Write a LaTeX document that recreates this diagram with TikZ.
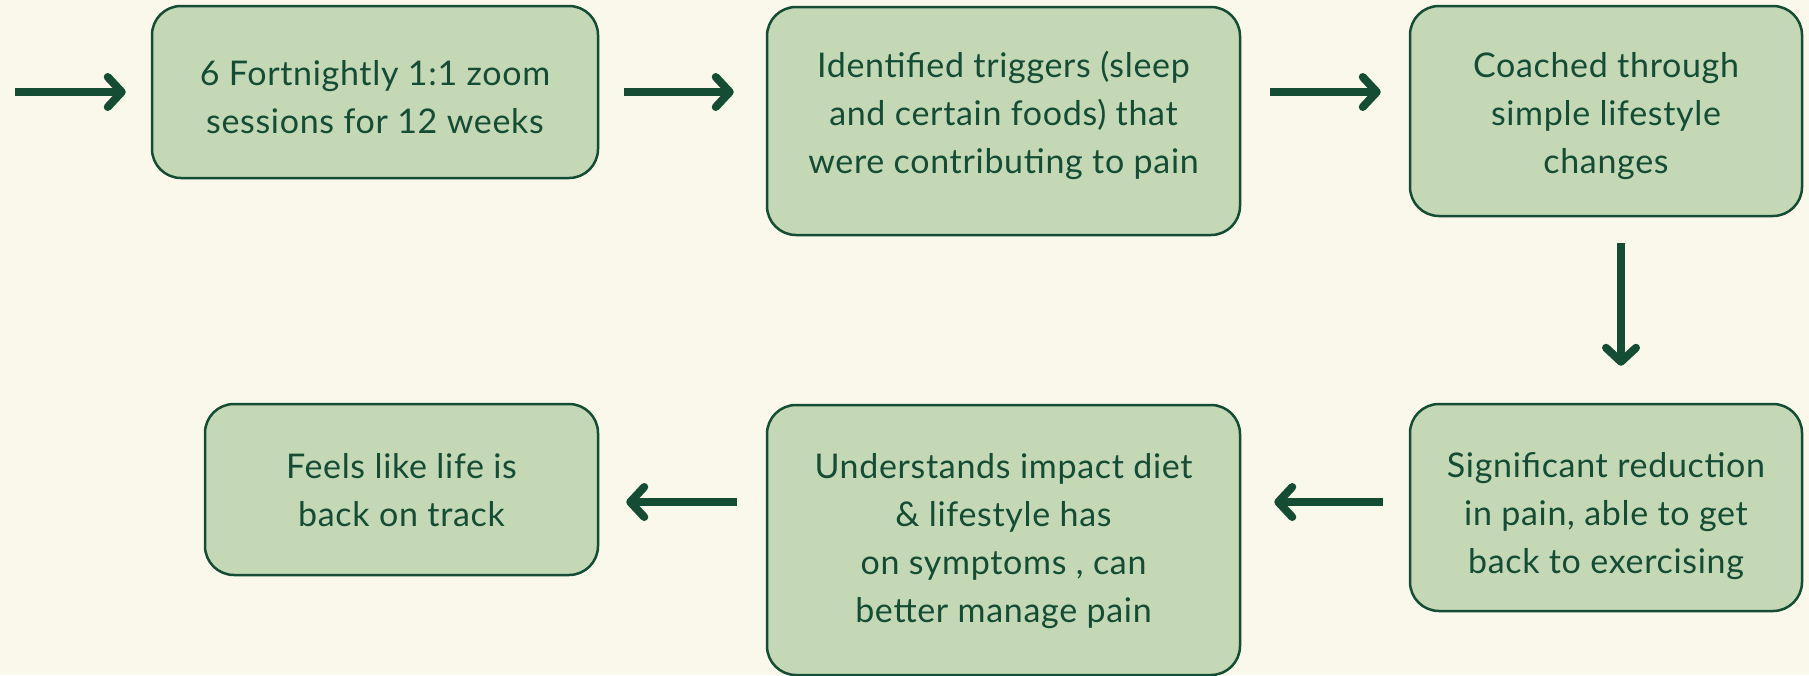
\documentclass[tikz,border=0pt]{standalone}
\usepackage{fontspec}
\setmainfont[LetterSpace=2]{Lato}
\usetikzlibrary{arrows.meta}
\definecolor{cream}{HTML}{FAF8EA}
\definecolor{sage}{HTML}{C4D8B6}
\definecolor{forest}{HTML}{144C34}
\tikzset{
  stepbox/.style={draw=forest, line width=2.5pt, fill=sage, rounded corners=29pt,
    inner sep=0pt},
  steptext/.style={align=center, text=forest, inner sep=0pt,
    font=\fontsize{34}{48}\selectfont},
  arr/.style={draw=forest, line width=8pt,
    -{Straight Barb[length=14pt,width=30pt,round]}},
}
\begin{document}
\begin{tikzpicture}[x=1pt,y=-1pt]
  \fill[cream] (0,0) rectangle (1809,675);
  \useasboundingbox (0,0) rectangle (1809,675);

  % top row
  \node[stepbox, minimum width=446pt, minimum height=172pt] (b1) at (375,92) {};
  \node[steptext] (b1t) at ([yshift=-5pt]b1.center)
    {6 Fortnightly 1:1 zoom\\sessions for 12 weeks};
  \node[stepbox, minimum width=473pt, minimum height=228pt] (b2) at (1003.5,121) {};
  \node[steptext] (b2t) at ([yshift=6pt]b2.center)
    {Identified triggers (sleep\\and certain foods) that\\were contributing to pain};
  \node[stepbox, minimum width=392pt, minimum height=210pt] (b3) at (1606,111) {};
  \node[steptext] (b3t) at ([yshift=-5pt]b3.center)
    {Coached through\\simple lifestyle\\changes};

  % bottom row
  \node[stepbox, minimum width=392pt, minimum height=207pt] (b4) at (1606,507.5) {};
  \node[steptext] (b4t) at ([yshift=-9pt]b4.center)
    {Significant reduction\\in pain, able to get\\back to exercising};
  \node[stepbox, minimum width=473pt, minimum height=270pt] (b5) at (1003.5,540) {};
  \node[steptext] (b5t) at ([yshift=-1pt]b5.center)
    {Understands impact diet\\\& lifestyle has\\on symptoms , can\\better manage pain};
  \node[stepbox, minimum width=393pt, minimum height=171pt] (b6) at (401.5,489.5) {};
  \node[steptext] (b6t) at ([yshift=-1pt]b6.center)
    {Feels like life is\\back on track};

  % connectors
  \coordinate (start) at (15,92);
  \draw[arr] (start) -- ([xshift=-25pt]b1.west);
  \draw[arr] ([xshift=25pt]b1.east) -- ([xshift=-32pt,yshift=29pt]b2.west);
  \draw[arr] ([xshift=29pt,yshift=29pt]b2.east) -- ([xshift=-28pt,yshift=19pt]b3.west);
  \draw[arr] ([xshift=15pt,yshift=-26pt]b3.south) -- ([xshift=15pt,yshift=37pt]b4.north);
  \draw[arr] ([xshift=-26pt,yshift=5.5pt]b4.west) -- ([xshift=33pt,yshift=38pt]b5.east);
  \draw[arr] ([xshift=-29pt,yshift=38pt]b5.west) -- ([xshift=27pt,yshift=-12.5pt]b6.east);
\end{tikzpicture}
\end{document}
